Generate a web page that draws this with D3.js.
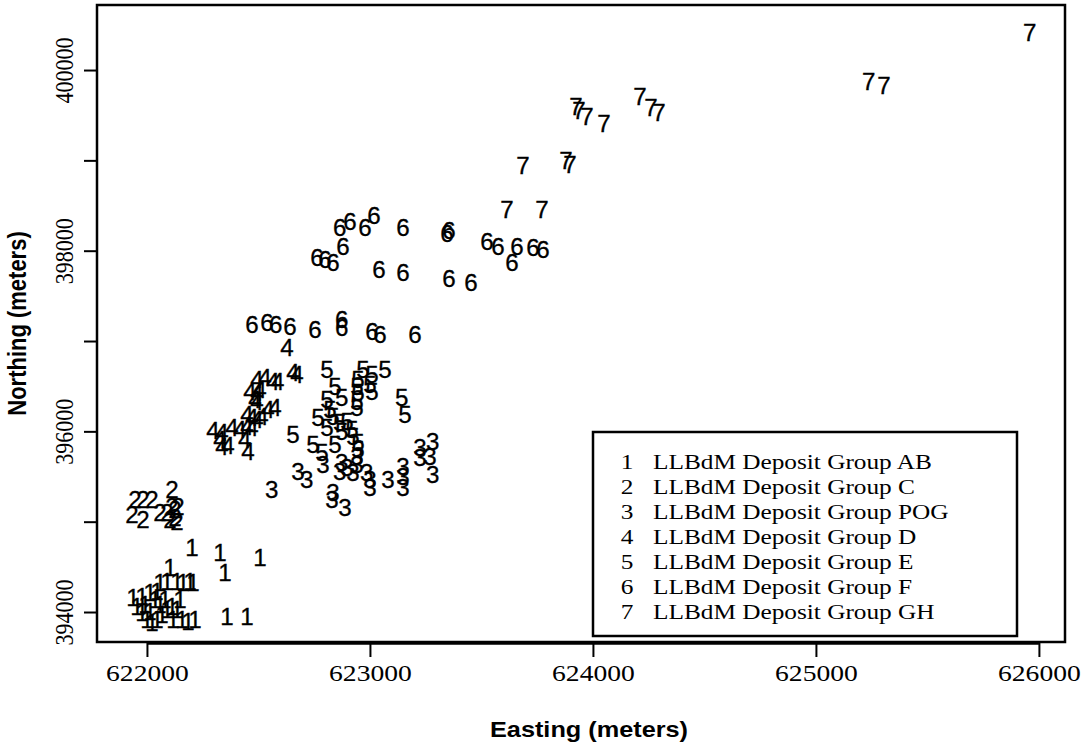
<!DOCTYPE html>
<html>
<head>
<meta charset="utf-8">
<script src="https://cdn.jsdelivr.net/npm/d3@7"></script>
<style>
  body { margin: 0; background: #fff; }
  svg { display: block; }
</style>
</head>
<body>
<svg id="chart" width="1084" height="747"></svg>
<script>
/// Easting / Northing (meters) for each deposit group
var groupAB = [[622202,394708],[622327,394653],[622507,394598],[622350,394432],[622103,394487],
  [622058,394321],[622090,394332],[622135,394332],[622161,394321],[622193,394332],[622206,394321],
  [621937,394155],[621978,394166],[622013,394210],[622045,394221],[621955,394055],[621978,393989],
  [622000,393911],[622022,393878],[622045,393911],[622067,393967],[622090,394022],[622112,394055],
  [622135,394022],[622117,393911],[622157,393911],[622184,393889],[622215,393911],[622359,393945],
  [622448,393945],[621991,394077],[622036,394133],[622081,394133],[622148,394133],[622013,394000],
  [622058,394077]]
var groupC = [[621946,395240],[621982,395240],[622022,395240],[622112,395351],[621933,395074],
  [621982,395018],[622058,395096],[622090,395096],[622112,395162],[622126,395129],[622139,395162],
  [622126,395041],[622135,394996],[622103,395018]]
var groupPOG = [[622560,395351],[622677,395550],[622717,395461],[622789,395627],[622874,395649],
  [622865,395550],[622897,395594],[622924,395539],[622942,395716],[622942,395627],[622986,395539],
  [623000,395461],[623000,395373],[622834,395317],[622830,395240],[622888,395151],[623081,395461],
  [623148,395605],[623148,395494],[623148,395373],[623224,395815],[623224,395705],[623282,395882],
  [623269,395716],[623282,395517]]
var groupD = [[622628,396922],[622655,396646],[622673,396624],[622493,396568],[622529,396590],
  [622565,396546],[622587,396546],[622462,396435],[622493,396424],[622507,396458],[622484,396347],
  [622493,396325],[622543,396236],[622574,396258],[622448,396181],[622471,396148],[622493,396125],
  [622516,396159],[622296,396004],[622336,395982],[622381,396037],[622417,396015],[622448,396048],
  [622471,396037],[622327,395904],[622336,395827],[622363,395838],[622439,395904],[622453,395771]]
var groupE = [[622807,396679],[622969,396679],[623009,396624],[623067,396679],[622843,396491],
  [622946,396568],[622942,396491],[622946,396424],[623000,396513],[623009,396435],[623143,396369],
  [622807,396347],[622874,396369],[622942,396325],[622942,396258],[622821,396236],[623157,396181],
  [622767,396148],[622834,396159],[622865,396092],[622897,396103],[622655,395959],[622807,396037],
  [622874,395993],[622919,396015],[622924,395937],[622744,395849],[622785,395760],[622843,395849],
  [622946,395871],[622946,395793]]
var groupF = [[622865,398251],[622910,398317],[622978,398251],[623018,398384],[623148,398251],
  [623345,398184],[623354,398218],[622879,398041],[622762,397919],[622798,397897],[622834,397863],
  [623040,397786],[623148,397753],[623354,397686],[623453,397642],[623525,398096],[623574,398041],
  [623659,398041],[623637,397863],[623731,398029],[623776,398007],[622471,397177],[622538,397199],
  [622578,397177],[622641,397155],[622753,397122],[622874,397232],[622874,397144],[623009,397100],
  [623045,397066],[623202,397066]]
var groupGH = [[625959,400410],[625237,399867],[625305,399823],[624211,399701],[624260,399579],
  [624296,399524],[623924,399590],[623937,399546],[623973,399480],[624049,399402],[623686,398937],
  [623879,398993],[623897,398948],[623614,398450],[623771,398450]]

var groups = [groupAB, groupC, groupPOG, groupD, groupE, groupF, groupGH]
var legendLabels = ["LLBdM Deposit Group AB", "LLBdM Deposit Group C", "LLBdM Deposit Group POG",
  "LLBdM Deposit Group D", "LLBdM Deposit Group E", "LLBdM Deposit Group F", "LLBdM Deposit Group GH"]

var xTicks = [622000, 623000, 624000, 625000, 626000]
var yTicks = [394000, 395000, 396000, 397000, 398000, 399000, 400000]
var xLim = [621776, 626117]
var yLim = [393668, 400720]

var box = {left: 97, right: 1065, top: 5, bottom: 642}
var sx = 1.15   /// the whole picture looks stretched sideways a bit
var serif = "'Liberation Serif', 'Times New Roman', serif"
var sans = "'Liberation Sans', Arial, Helvetica, sans-serif"

var svg = d3.select("#chart")

var x = d3.scaleLinear().domain(xLim).range([box.left, box.right])
var y = d3.scaleLinear().domain(yLim).range([box.bottom, box.top])

/// points: group number drawn as text, centred on the location
groups.forEach(function(g, i){
    svg.append("g")
        .selectAll("text")
        .data(g)
        .enter()
        .append("text")
        .attr("transform", d => "translate(" + x(d[0]) + "," + y(d[1]) + ") scale(1.05,1)")
        .attr("text-anchor", "middle")
        .attr("dy", "0.36em")
        .attr("font-family", sans)
        .attr("font-size", 23)
        .attr("fill", "#000")
        .attr("stroke", "#000")
        .attr("stroke-width", 0.3)
        .text(i + 1)
})

/// bottom axis
var xAxis = svg.append("g")
    .attr("transform", "translate(0," + (box.bottom + 1) + ")")
    .call(d3.axisBottom(x).tickValues(xTicks).tickSize(14).tickFormat(d3.format("d")))
xAxis.select(".domain").remove()
xAxis.selectAll("line").attr("stroke", "#000").attr("stroke-width", 2)
xAxis.selectAll("text")
    .attr("y", 0).attr("dy", 0)
    .attr("transform", "translate(0,38) scale(" + sx + ",1)")
    .attr("font-family", serif)
    .attr("font-size", 24)
    .attr("fill", "#000")
xAxis.append("line")
    .attr("x1", x(xTicks[0])).attr("x2", x(xTicks[xTicks.length - 1]))
    .attr("stroke", "#000").attr("stroke-width", 3.5)

/// left axis, labels only every second tick
var yAxis = svg.append("g")
    .attr("transform", "translate(" + box.left + ",0)")
    .call(d3.axisLeft(y).tickValues(yTicks).tickSize(13)
        .tickFormat(d => d % 2000 === 0 ? d3.format("d")(d) : ""))
yAxis.select(".domain").remove()
yAxis.selectAll("line").attr("stroke", "#000").attr("stroke-width", 2)
yAxis.selectAll("text")
    .attr("x", 0).attr("dy", 0)
    .attr("text-anchor", "middle")
    .attr("transform", "translate(-24,0) scale(" + sx + ",1) rotate(-90)")
    .attr("font-family", serif)
    .attr("font-size", 22)
    .attr("fill", "#000")

/// plot frame
svg.append("rect")
    .attr("x", box.left).attr("y", box.top)
    .attr("width", box.right - box.left).attr("height", box.bottom - box.top)
    .attr("fill", "none").attr("stroke", "#000").attr("stroke-width", 2.5)

/// axis titles
svg.append("text")
    .attr("transform", "translate(" + ((box.left + box.right) / 2 + 8) + ",737) scale(" + sx + ",1)")
    .attr("text-anchor", "middle")
    .attr("font-family", sans).attr("font-weight", "bold").attr("font-size", 22)
    .text("Easting (meters)")

svg.append("text")
    .attr("transform", "translate(26," + ((box.top + box.bottom) / 2) + ") scale(" + sx + ",1) rotate(-90)")
    .attr("text-anchor", "middle")
    .attr("font-family", sans).attr("font-weight", "bold").attr("font-size", 22)
    .text("Northing (meters)")

/// legend
var leg = svg.append("g")
leg.append("rect")
    .attr("x", 593).attr("y", 432).attr("width", 424).attr("height", 204)
    .attr("fill", "#fff").attr("stroke", "#000").attr("stroke-width", 2.5)

var rows = leg.selectAll("g.row")
    .data(legendLabels)
    .enter()
    .append("g")
    .attr("class", "row")
    .attr("transform", (d, i) => "translate(0," + (469 + i * 25) + ")")

rows.append("text")
    .attr("transform", "translate(627,0) scale(" + sx + ",1)")
    .attr("text-anchor", "middle")
    .attr("font-family", serif).attr("font-size", 22)
    .text((d, i) => i + 1)

rows.append("text")
    .attr("transform", "translate(653,0) scale(" + sx + ",1)")
    .attr("font-family", serif).attr("font-size", 22)
    .text(d => d)
</script>
</body>
</html>
